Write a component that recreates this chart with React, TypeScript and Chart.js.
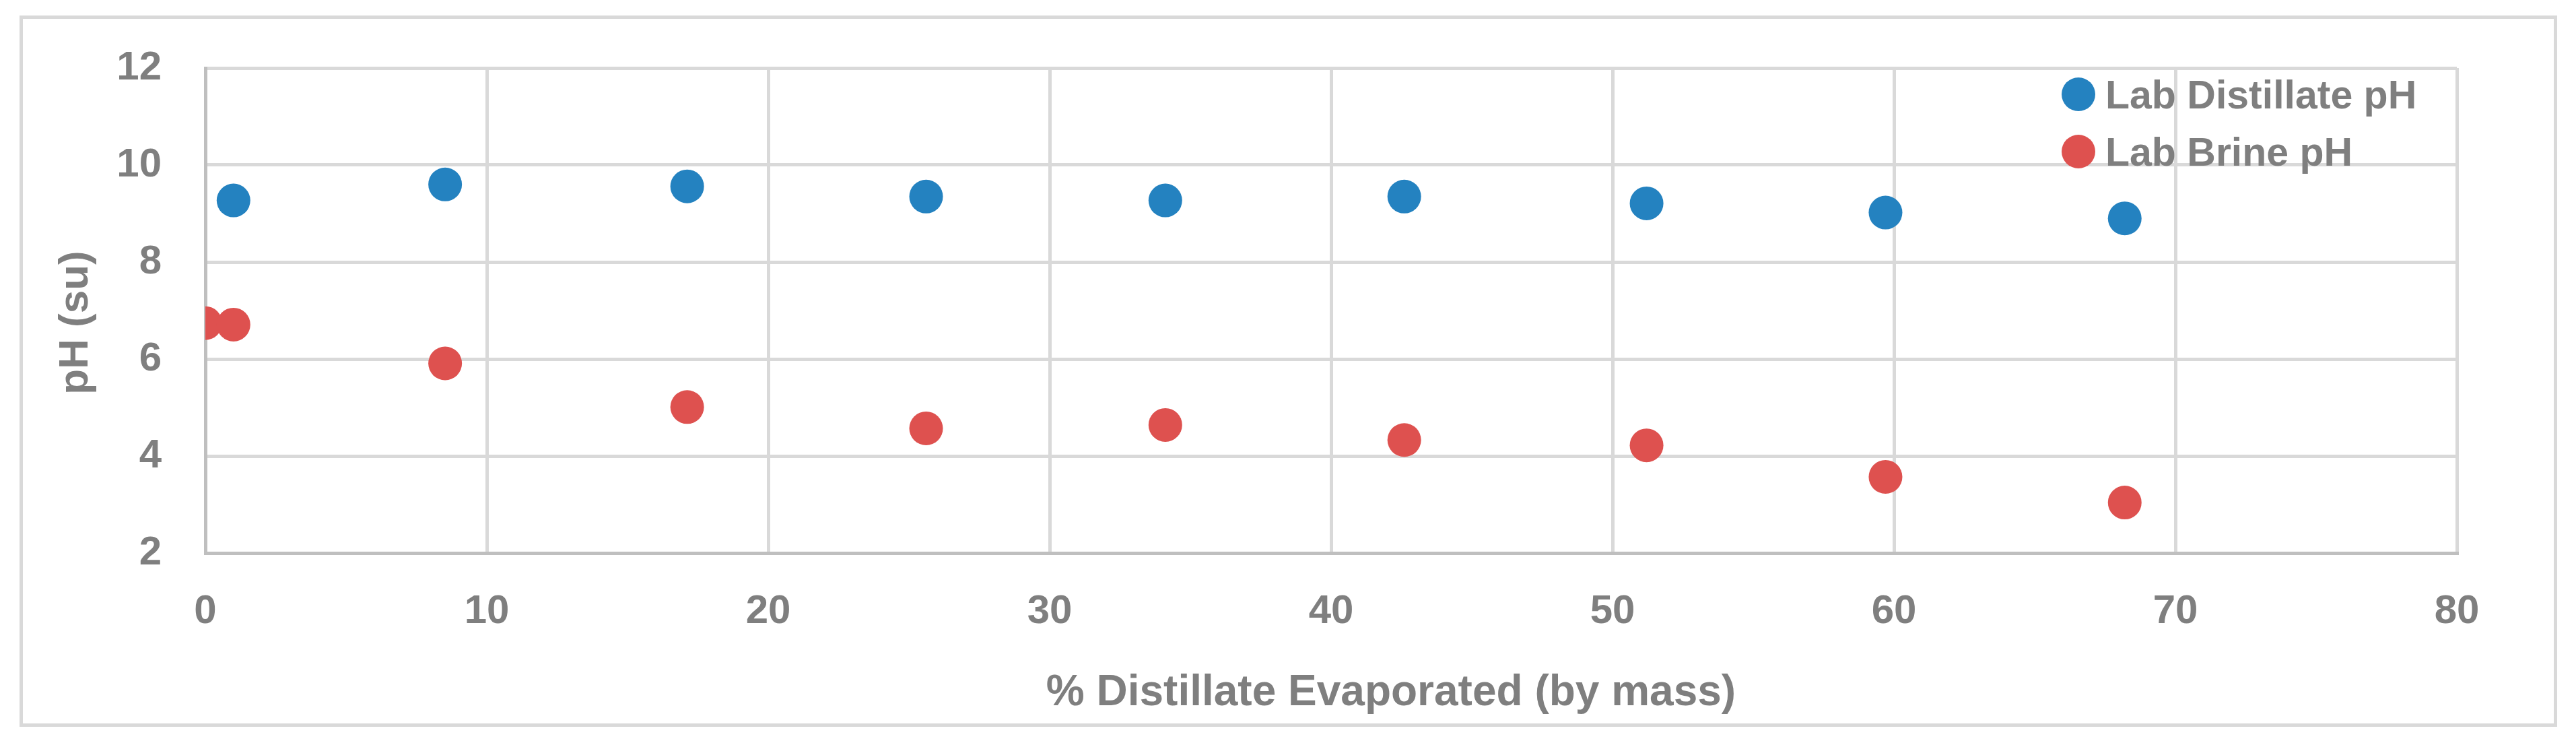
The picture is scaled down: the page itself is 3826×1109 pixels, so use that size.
import React, { useEffect, useRef } from "react";
import { Chart, registerables } from "chart.js";

Chart.register(...registerables);

// ---- data ----
const distillateX = [1.0, 8.52, 17.12, 25.61, 34.11, 42.6, 51.21, 59.7, 68.2];
const distillatePH = [9.27, 9.6, 9.56, 9.35, 9.27, 9.35, 9.21, 9.02, 8.9];
const brineX = [0, 1.0, 8.52, 17.12, 25.61, 34.11, 42.6, 51.21, 59.7, 68.2];
const brinePH = [6.74, 6.71, 5.91, 5.01, 4.57, 4.64, 4.33, 4.22, 3.57, 3.04];
const seriesNames = ["Lab Distillate pH", "Lab Brine pH"];
const xTitle = "% Distillate Evaporated (by mass)";
const yTitle = "pH (su)";
const xRange = [0, 80];
const yRange = [2, 12];
const xStep = 10;
const yStep = 2;

const FONT = '"Liberation Sans", Arial, sans-serif';
const TEXT = "#7f7f7f";
const BLUE = "#2482c0";
const RED = "#de514f";

const W = 3826;
const H = 1109;

const decorPlugin = {
  id: "decor",
  beforeDraw(chart: any) {
    const ctx = chart.ctx;
    ctx.save();
    ctx.fillStyle = "#ffffff";
    ctx.fillRect(0, 0, chart.width, chart.height);
    ctx.strokeStyle = "#d9d9d9";
    ctx.lineWidth = 5;
    ctx.strokeRect(31.5, 25.5, 3764, 1051);
    ctx.restore();
  },
  afterDraw(chart: any) {
    const ctx = chart.ctx;
    const area = chart.chartArea;
    ctx.save();
    ctx.fillStyle = TEXT;

    // x axis title
    ctx.font = `bold 64px ${FONT}`;
    ctx.textAlign = "center";
    ctx.textBaseline = "alphabetic";
    ctx.fillText(xTitle, 2066, 1047);

    // y axis title
    ctx.save();
    ctx.translate(113, 479);
    ctx.rotate(-Math.PI / 2);
    ctx.font = `bold 62px ${FONT}`;
    ctx.textAlign = "center";
    ctx.textBaseline = "middle";
    ctx.fillText(yTitle, 0, 0);
    ctx.restore();

    // legend
    const lx = area.right - 562;
    const ly = area.top + 39;
    chart.data.datasets.forEach((ds: any, i: number) => {
      const cy = ly + i * 85;
      ctx.beginPath();
      ctx.fillStyle = ds.backgroundColor;
      ctx.arc(lx, cy, 25, 0, Math.PI * 2);
      ctx.fill();
      ctx.fillStyle = TEXT;
      ctx.font = `bold 59px ${FONT}`;
      ctx.textAlign = "left";
      ctx.textBaseline = "alphabetic";
      ctx.fillText(ds.label, lx + 40, cy + 21);
    });
    ctx.restore();
  },
};

export default function App() {
  const ref = useRef<HTMLCanvasElement | null>(null);

  useEffect(() => {
    document.body.style.margin = "0";
    document.body.style.overflow = "hidden";
    const canvas = ref.current;
    if (!canvas) return;
    const chart = new Chart(canvas, {
      type: "scatter",
      data: {
        datasets: [
          {
            label: seriesNames[0],
            data: distillateX.map((x, i) => ({ x, y: distillatePH[i] })),
            backgroundColor: BLUE,
            borderWidth: 0,
            pointRadius: 25,
            pointHoverRadius: 25,
          },
          {
            label: seriesNames[1],
            data: brineX.map((x, i) => ({ x, y: brinePH[i] })),
            backgroundColor: RED,
            borderWidth: 0,
            pointRadius: 25,
            pointHoverRadius: 25,
          },
        ],
      },
      options: {
        animation: false,
        responsive: false,
        devicePixelRatio: 1,
        layout: { padding: { left: 0, top: 89, right: 177, bottom: 0 } },
        plugins: {
          legend: { display: false },
          tooltip: { enabled: false },
          title: { display: false },
        },
        scales: {
          x: {
            type: "linear",
            min: xRange[0],
            max: xRange[1],
            afterFit: (s: any) => {
              s.height = 288;
            },
            ticks: {
              stepSize: xStep,
              autoSkip: false,
              color: TEXT,
              padding: 51,
              font: { family: FONT, size: 60, weight: "bold" },
            },
            grid: { color: "#d9d9d9", lineWidth: 5, drawTicks: false },
            border: { color: "#bfbfbf", width: 5 },
          },
          y: {
            type: "linear",
            min: yRange[0],
            max: yRange[1],
            afterFit: (s: any) => {
              s.width = 305;
            },
            ticks: {
              stepSize: yStep,
              autoSkip: false,
              color: TEXT,
              padding: 65,
              font: { family: FONT, size: 60, weight: "bold" },
            },
            grid: { color: "#d9d9d9", lineWidth: 5, drawTicks: false },
            border: { color: "#bfbfbf", width: 5 },
          },
        },
      },
      plugins: [decorPlugin],
    });
    return () => chart.destroy();
  }, []);

  return (
    <canvas
      ref={ref}
      width={W}
      height={H}
      style={{ display: "block", width: W, height: H }}
    />
  );
}
